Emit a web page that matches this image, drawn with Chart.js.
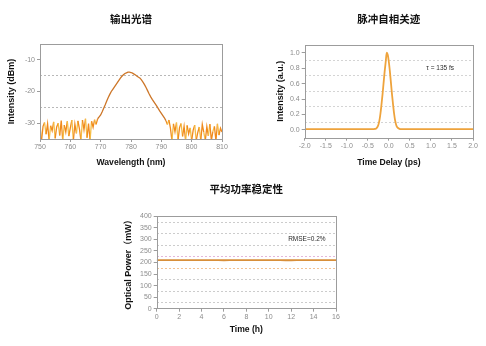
<!DOCTYPE html>
<html>
<head>
<meta charset="utf-8">
<script src="https://cdn.jsdelivr.net/npm/chart.js@4.4.1/dist/chart.umd.min.js"></script>
<style>
  html, body { margin: 0; padding: 0; background: #fff; width: 486px; height: 346px; overflow: hidden; }
  canvas { position: absolute; }
  #c1 { left: 0; top: 0; }
  #c2 { left: 243px; top: 0; }
  #c3 { left: 100px; top: 173px; }
</style>
</head>
<body>
<canvas id="c1" width="243" height="173"></canvas>
<canvas id="c2" width="243" height="173"></canvas>
<canvas id="c3" width="293" height="173"></canvas>
<script>
// ---- Output spectrum (dBm vs nm) ----
const wavelengthNm = [
  750, 750.5, 751, 751.5, 752, 752.5, 753, 753.5, 754, 754.5, 755, 755.5, 756, 756.5, 757, 757.5,
  758, 758.5, 759, 759.5, 760, 760.5, 761, 761.5, 762, 762.5, 763, 763.5, 764, 764.5, 765, 765.5,
  766, 766.5, 767, 767.5, 768, 768.5, 769, 769.5, 770, 770.5, 771, 771.5, 772, 772.5, 773, 773.5,
  774, 774.5, 775, 775.5, 776, 776.5, 777, 777.5, 778, 778.5, 779, 779.5, 780, 780.5, 781, 781.5,
  782, 782.5, 783, 783.5, 784, 784.5, 785, 785.5, 786, 786.5, 787, 787.5, 788, 788.5, 789, 789.5,
  790, 790.5, 791, 791.5, 792, 792.5, 793, 793.5, 794, 794.5, 795, 795.5, 796, 796.5, 797, 797.5,
  798, 798.5, 799, 799.5, 800, 800.5, 801, 801.5, 802, 802.5, 803, 803.5, 804, 804.5, 805, 805.5,
  806, 806.5, 807, 807.5, 808, 808.5, 809, 809.5, 810
];
const spectrumDbm = [
  -30.5, -35.5, -31.0, -29.8, -33.5, -30.2, -35.5, -30.8, -32.4, -29.6, -34.8, -31.2, -30.0, -33.9, -29.2, -35.5,
  -30.6, -32.8, -29.4, -34.1, -31.5, -29.0, -35.5, -30.3, -33.2, -29.3, -31.8, -35.5, -29.0, -32.1, -28.6, -34.6,
  -30.1, -35.5, -29.4, -31.3, -28.9, -30.4, -28.6, -28.0, -27.4, -26.4, -25.3, -24.2, -23.0, -21.9, -20.9, -20.0,
  -19.3, -18.6, -17.9, -17.2, -16.5, -15.8, -15.2, -14.7, -14.3, -14.1, -13.9, -13.9, -14.0, -14.2, -14.5, -14.8,
  -15.2, -15.5, -15.8, -16.4, -17.1, -17.9, -18.8, -19.8, -20.8, -21.7, -22.5, -23.2, -23.9, -24.6, -25.4, -26.2,
  -26.9, -27.6, -28.3, -29.2, -30.4, -29.0, -31.6, -35.5, -30.2, -32.7, -29.8, -35.5, -31.4, -30.1, -34.2, -31.0,
  -35.5, -30.7, -33.4, -31.5, -35.5, -32.2, -30.6, -35.5, -33.0, -31.2, -35.5, -30.4, -32.9, -35.5, -31.1, -34.0,
  -30.3, -35.5, -32.6, -31.0, -35.5, -30.2, -33.8, -31.6, -32.8
];
const spectrumTicks = [-10, -20, -30];

// ---- Pulse autocorrelation trace ----
const delayPs = [
  -2.0, -1.5, -1.0, -0.5, -0.4, -0.35, -0.3, -0.275, -0.25, -0.225, -0.2, -0.175, -0.15, -0.125, -0.1, -0.075,
  -0.05, -0.025, 0, 0.025, 0.05, 0.075, 0.1, 0.125, 0.15, 0.175, 0.2, 0.25, 0.3, 0.5, 1.0, 1.5, 2.0
];
const autocorrAu = [
  0.01, 0.01, 0.01, 0.01, 0.01, 0.012, 0.02, 0.035, 0.065, 0.12, 0.21, 0.33, 0.46, 0.61, 0.755, 0.88,
  1.00, 0.97, 0.88, 0.755, 0.61, 0.46, 0.33, 0.21, 0.12, 0.065, 0.035, 0.015, 0.01, 0.01, 0.01, 0.01, 0.01
];
const pulseLabel = 'τ = 135 fs';

// ---- Average power stability ----
const timeH = [0, 1, 2, 3, 4, 5, 6, 7, 8, 9, 10, 11, 12, 13, 14, 15, 16];
const powerMw = [210.2, 210.0, 210.4, 209.9, 210.1, 210.3, 209.8, 210.0, 210.2, 209.9, 210.1, 210.0, 209.7, 210.2, 210.0, 209.9, 210.1];
const powerLabel = 'RMSE=0.2%';

const LATIN = "'Liberation Sans', Arial, 'Noto Sans CJK SC', sans-serif";
const CJK = "'Noto Sans CJK SC', 'Liberation Sans', sans-serif";
const TICK_COLOR = '#8c8c8c';
const NONE = 'rgba(0,0,0,0)';
// axis border hidden (frame drawn by plugin); its dash pattern styles the grid lines
const dashedBorder = { display: false, dash: [2, 2] };

// Grey frame around the plot area
const framePlugin = {
  id: 'frame',
  afterDraw(chart) {
    const { ctx, chartArea: a } = chart;
    ctx.save();
    ctx.strokeStyle = '#9c9c9c';
    ctx.lineWidth = 1;
    ctx.strokeRect(Math.round(a.left) + 0.5, Math.round(a.top) + 0.5,
      Math.round(a.right - a.left), Math.round(a.bottom - a.top));
    ctx.restore();
  }
};

// In-plot text note, placed in data coordinates
const notePlugin = {
  id: 'note',
  afterDatasetsDraw(chart, args, opts) {
    if (!opts || !opts.text) return;
    const { ctx, scales } = chart;
    ctx.save();
    ctx.font = opts.font;
    ctx.fillStyle = '#2a2a2a';
    ctx.textAlign = 'center';
    ctx.textBaseline = 'middle';
    ctx.fillText(opts.text, scales.x.getPixelForValue(opts.x), scales.y.getPixelForValue(opts.y));
    ctx.restore();
  }
};

function titleOpts(text, padTop, padBottom) {
  return {
    display: true, text, fullSize: false, color: '#111',
    font: { family: CJK, size: 10.5, weight: 'bold', lineHeight: 1.2 },
    padding: { top: padTop, bottom: padBottom }
  };
}
function axisTitle(text, size, pad) {
  return {
    display: true, text, color: '#111',
    font: { family: LATIN, size, weight: 'bold', lineHeight: 1.2 },
    padding: pad
  };
}
function tickFont() { return { family: LATIN, size: 7 }; }

Chart.defaults.animation = false;
Chart.defaults.responsive = false;
Chart.defaults.maintainAspectRatio = false;

// Chart 1: spectrum
new Chart(document.getElementById('c1'), {
  type: 'line',
  data: {
    datasets: [{
      data: wavelengthNm.map((w, i) => ({ x: w, y: spectrumDbm[i] })),
      borderWidth: 1.3,
      pointRadius: 0,
      tension: 0,
      borderColor: '#f08a1c',
      segment: {
        borderColor: ctx => {
          const a = ctx.p0.parsed, b = ctx.p1.parsed;
          if (a.x >= 769 && b.x <= 791.5) return '#cd7628';
          return ctx.p0DataIndex % 3 === 0 ? '#f5bd45' : '#f08a1c';
        }
      }
    }]
  },
  options: {
    layout: { padding: { left: 0, right: 21, top: 0, bottom: 0 } },
    plugins: {
      legend: { display: false }, tooltip: { enabled: false },
      title: titleOpts('输出光谱', 13, 18.4)
    },
    scales: {
      x: {
        type: 'linear', min: 750, max: 810,
        ticks: { stepSize: 10, color: TICK_COLOR, font: tickFont(), padding: 1, maxRotation: 0 },
        grid: { drawOnChartArea: false, tickLength: 3, tickColor: '#9c9c9c' },
        border: { display: false },
        title: axisTitle('Wavelength (nm)', 8.6, { top: 0, bottom: 5 }),
        afterFit(s) { s.height = 34; }
      },
      y: {
        type: 'linear', min: -35, max: -5,
        afterBuildTicks(s) { s.ticks = [-35, -30, -25, -20, -15, -10, -5].map(v => ({ value: v })); },
        ticks: {
          autoSkip: false,
          color: TICK_COLOR, font: tickFont(), padding: 2,
          callback: v => spectrumTicks.includes(v) ? String(v) : ''
        },
        grid: {
          color: c => (c.tick && (c.tick.value === -15 || c.tick.value === -25)) ? '#b8b8b8' : NONE,
          tickColor: c => (c.tick && spectrumTicks.includes(c.tick.value)) ? '#9c9c9c' : NONE,
          tickLength: 3, lineWidth: 1
        },
        border: dashedBorder,
        title: axisTitle('Intensity (dBm)', 9, { top: 6, bottom: 0 }),
        afterFit(s) { s.width = 40; }
      }
    }
  },
  plugins: [framePlugin]
});

// Chart 2: autocorrelation
const evenTenth = v => { const k = Math.round(v * 10); return k >= 0 && k <= 10 && k % 2 === 0; };
const oddTenth = v => { const k = Math.round(v * 10); return k >= 1 && k <= 9 && k % 2 === 1; };
new Chart(document.getElementById('c2'), {
  type: 'line',
  data: {
    datasets: [{
      data: delayPs.map((t, i) => ({ x: t, y: autocorrAu[i] })),
      borderColor: '#eea33c',
      borderWidth: 1.8,
      pointRadius: 0,
      cubicInterpolationMode: 'monotone'
    }]
  },
  options: {
    layout: { padding: { left: 20, right: 13, top: 0, bottom: 0 } },
    plugins: {
      legend: { display: false }, tooltip: { enabled: false },
      title: titleOpts('脉冲自相关迹', 13, 19.4),
      note: { text: pulseLabel, x: 1.22, y: 0.8, font: "6.5px 'Liberation Sans', Arial, sans-serif" }
    },
    scales: {
      x: {
        type: 'linear', min: -2, max: 2,
        ticks: { stepSize: 0.5, color: TICK_COLOR, font: tickFont(), padding: 1, maxRotation: 0,
          callback: v => v.toFixed(1) },
        grid: { drawOnChartArea: false, tickLength: 3, tickColor: '#9c9c9c' },
        border: { display: false },
        title: axisTitle('Time Delay (ps)', 8.6, { top: 0, bottom: 5 }),
        afterFit(s) { s.height = 35.3; }
      },
      y: {
        type: 'linear', min: -0.1, max: 1.1,
        afterBuildTicks(s) {
          s.ticks = [-0.1, 0, 0.1, 0.2, 0.3, 0.4, 0.5, 0.6, 0.7, 0.8, 0.9, 1.0, 1.1].map(v => ({ value: v }));
        },
        ticks: {
          autoSkip: false,
          color: TICK_COLOR, font: tickFont(), padding: 2,
          callback: v => evenTenth(v) ? (Math.round(v * 10) / 10).toFixed(1) : ''
        },
        grid: {
          color: c => (c.tick && oddTenth(c.tick.value)) ? '#d4d4d4' : NONE,
          tickColor: c => (c.tick && evenTenth(c.tick.value)) ? '#9c9c9c' : NONE,
          tickLength: 3
        },
        border: dashedBorder,
        title: axisTitle('Intensity (a.u.)', 9, { top: 12, bottom: 0 }),
        afterFit(s) { s.width = 41.7; }
      }
    }
  },
  plugins: [framePlugin, notePlugin]
});

// Chart 3: power stability
new Chart(document.getElementById('c3'), {
  type: 'line',
  data: {
    datasets: [{
      data: timeH.map((t, i) => ({ x: t, y: powerMw[i] })),
      borderColor: '#d88f3a',
      borderWidth: 1.8,
      pointRadius: 0,
      tension: 0.3
    }]
  },
  options: {
    layout: { padding: { left: 10, right: 57, top: 0, bottom: 0 } },
    plugins: {
      legend: { display: false }, tooltip: { enabled: false },
      title: titleOpts('平均功率稳定性', 9.4, 21.3),
      note: { text: powerLabel, x: 13.4, y: 300, font: "6.5px 'Liberation Sans', Arial, sans-serif" }
    },
    scales: {
      x: {
        type: 'linear', min: 0, max: 16,
        ticks: { stepSize: 2, color: TICK_COLOR, font: tickFont(), padding: 1, maxRotation: 0 },
        grid: { drawOnChartArea: false, tickLength: 3, tickColor: '#9c9c9c' },
        border: { display: false },
        title: axisTitle('Time (h)', 8.6, { top: 0, bottom: 11 }),
        afterFit(s) { s.height = 37.3; }
      },
      y: {
        type: 'linear', min: 0, max: 400,
        afterBuildTicks(s) {
          const t = [];
          for (let v = 0; v <= 400; v += 25) t.push({ value: v });
          s.ticks = t;
        },
        ticks: {
          autoSkip: false,
          color: TICK_COLOR, font: tickFont(), padding: 2,
          callback: v => (v % 50 === 0) ? String(v) : ''
        },
        grid: {
          color: c => {
            if (!c.tick) return NONE;
            const v = c.tick.value;
            if (v % 50 === 0) return NONE;
            if (v === 225) return '#e3b8dc';
            if (v === 175) return '#f3c294';
            return '#cccccc';
          },
          tickColor: c => (c.tick && c.tick.value % 50 === 0) ? '#9c9c9c' : NONE,
          tickLength: 3
        },
        border: dashedBorder,
        title: axisTitle('Optical Power（mW）', 9, { top: 13.2, bottom: 0 }),
        afterFit(s) { s.width = 46.7; }
      }
    }
  },
  plugins: [framePlugin, notePlugin]
});
</script>
</body>
</html>
